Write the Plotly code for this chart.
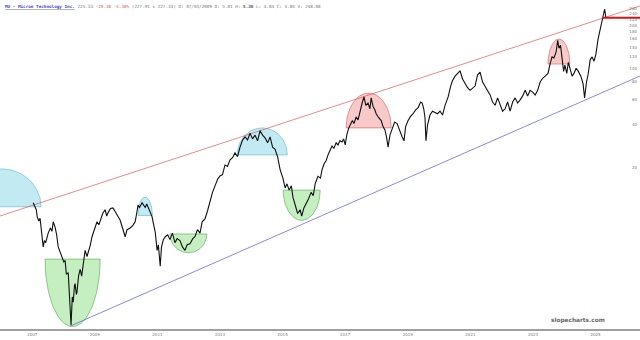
import numpy as np
import plotly.graph_objects as go

# ---- price series (decimal year, close) ----
dates = [
    2007.70, 2007.75, 2007.80, 2007.83, 2007.88, 2007.92, 2007.99, 2008.02, 2008.06, 2008.10,
    2008.18, 2008.25, 2008.30, 2008.34, 2008.40, 2008.45, 2008.50, 2008.55, 2008.62, 2008.68,
    2008.72, 2008.76, 2008.82, 2008.86, 2008.91, 2008.95, 2008.98, 2009.02, 2009.04, 2009.08,
    2009.10, 2009.15, 2009.20, 2009.25, 2009.30, 2009.36, 2009.42, 2009.46, 2009.52, 2009.58,
    2009.65, 2009.74, 2009.80, 2009.84, 2009.92, 2010.00, 2010.05, 2010.09, 2010.17, 2010.25,
    2010.32, 2010.38, 2010.43, 2010.48, 2010.55, 2010.64, 2010.70, 2010.80, 2010.88, 2010.96,
    2011.02, 2011.05, 2011.10, 2011.18, 2011.24, 2011.28, 2011.33, 2011.37, 2011.45, 2011.50,
    2011.55, 2011.60, 2011.66, 2011.70, 2011.76, 2011.80, 2011.86, 2011.92, 2012.00, 2012.07,
    2012.15, 2012.23, 2012.30, 2012.39, 2012.47, 2012.55, 2012.62, 2012.71, 2012.80, 2012.87,
    2012.95, 2013.03, 2013.10, 2013.19, 2013.27, 2013.35, 2013.43, 2013.51, 2013.60, 2013.67,
    2013.75, 2013.83, 2013.91, 2013.99, 2014.07, 2014.15, 2014.23, 2014.31, 2014.39, 2014.47,
    2014.55, 2014.63, 2014.71, 2014.79, 2014.87, 2014.95, 2015.03, 2015.11, 2015.19, 2015.27,
    2015.35, 2015.43, 2015.51, 2015.59, 2015.68, 2015.75, 2015.81, 2015.88, 2015.95, 2016.00,
    2016.08, 2016.15, 2016.23, 2016.28, 2016.35, 2016.42, 2016.50, 2016.58, 2016.65, 2016.71,
    2016.80, 2016.88, 2016.93, 2017.00, 2017.06, 2017.13, 2017.19, 2017.25, 2017.31, 2017.38,
    2017.44, 2017.50, 2017.57, 2017.62, 2017.67, 2017.72, 2017.78, 2017.83, 2017.90, 2017.95,
    2018.02, 2018.08, 2018.14, 2018.22, 2018.27, 2018.33, 2018.40, 2018.46, 2018.50, 2018.56,
    2018.62, 2018.66, 2018.74, 2018.82, 2018.88, 2018.94, 2018.99, 2019.04, 2019.10, 2019.17,
    2019.25, 2019.33, 2019.40, 2019.49, 2019.55, 2019.60, 2019.68, 2019.76, 2019.84, 2019.92,
    2020.00, 2020.08, 2020.13, 2020.18, 2020.22, 2020.25, 2020.30, 2020.38, 2020.46, 2020.54,
    2020.62, 2020.70, 2020.78, 2020.86, 2020.96, 2021.04, 2021.10, 2021.18, 2021.26, 2021.34,
    2021.42, 2021.50, 2021.58, 2021.66, 2021.74, 2021.82, 2021.90, 2021.98, 2022.06, 2022.14,
    2022.22, 2022.30, 2022.38, 2022.46, 2022.54, 2022.62, 2022.70, 2022.78, 2022.86, 2022.94,
    2023.02, 2023.10, 2023.18, 2023.26, 2023.34, 2023.42, 2023.50, 2023.58, 2023.66, 2023.74,
    2023.82, 2023.90, 2023.98, 2024.06, 2024.15, 2024.22, 2024.28, 2024.34, 2024.41, 2024.46,
    2024.50, 2024.55, 2024.60, 2024.65, 2024.69, 2024.75, 2024.80, 2024.85, 2024.92, 2024.98,
    2025.05, 2025.12, 2025.20, 2025.27, 2025.32, 2025.38, 2025.43, 2025.50, 2025.56, 2025.62,
    2025.68, 2025.75, 2025.82, 2025.88, 2025.93, 2025.96, 2026.00,
]
prices = [
    11.4, 10.8, 10.2, 9.1, 8.5, 8.9, 6.6, 5.6, 6.2, 6.0,
    7.0, 7.6, 7.2, 8.4, 7.7, 6.8, 5.6, 5.2, 4.8, 4.4,
    4.5, 3.6, 3.7, 2.4, 1.59, 2.5, 2.3, 3.0, 3.1, 2.6,
    2.7, 3.5, 3.9, 3.5, 4.3, 5.3, 4.8, 5.1, 5.7, 6.6,
    7.3, 8.4, 8.0, 8.6, 9.6, 10.2, 9.2, 9.7, 10.4, 10.5,
    9.8, 9.4, 9.0, 8.6, 7.6, 6.6, 7.4, 7.6, 7.9, 8.4,
    10.0, 11.0, 10.6, 11.4, 10.9, 10.6, 11.2, 10.7, 9.5, 9.1,
    8.0, 7.1, 5.3, 5.8, 4.1, 5.6, 6.3, 6.6, 6.8, 6.3,
    7.0, 6.0, 6.4, 6.2, 5.6, 5.3, 5.8, 5.9, 6.4, 6.6,
    7.4, 7.0, 8.4, 8.8, 10.0, 11.9, 13.5, 15.0, 16.8, 17.6,
    18.0, 21.0, 20.5, 22.8, 23.6, 25.5, 24.0, 28.0, 31.4, 33.0,
    31.5, 35.0, 32.0, 34.0, 31.0, 36.5, 34.0, 32.5, 30.0, 33.0,
    28.0, 27.0, 24.0, 19.5, 17.0, 14.5, 15.5, 14.0, 15.0, 12.5,
    11.0, 9.6, 10.2, 9.2, 10.5, 11.2, 12.2, 13.5, 12.8, 15.5,
    17.5, 17.0, 19.5, 21.5, 22.5, 25.0, 26.5, 28.5, 27.5, 30.0,
    29.0, 31.0, 30.4, 32.0, 29.0, 34.0, 38.0, 40.0, 43.0, 41.0,
    45.5, 43.5, 50.0, 58.0, 63.0, 55.0, 57.0, 52.0, 62.0, 54.0,
    51.0, 48.0, 45.0, 43.0, 39.0, 37.0, 33.0, 28.0, 34.0, 38.0,
    42.0, 41.0, 37.0, 33.0, 31.0, 39.0, 43.0, 46.0, 48.0, 51.0,
    53.0, 58.0, 57.0, 52.0, 45.0, 31.0, 40.0, 47.0, 50.0, 49.0,
    48.0, 50.0, 47.0, 55.0, 63.0, 75.0, 82.0, 88.0, 92.0, 96.0,
    84.0, 78.0, 73.0, 70.0, 72.0, 75.0, 90.0, 94.0, 80.0, 75.0,
    70.0, 65.0, 58.0, 55.0, 62.0, 56.0, 50.0, 52.0, 58.0, 50.0,
    58.0, 62.0, 57.0, 60.0, 64.0, 70.0, 64.0, 70.0, 68.0, 65.0,
    70.0, 80.0, 85.0, 88.0, 92.0, 108.0, 120.0, 118.0, 130.0, 157.0,
    138.0, 145.0, 110.0, 95.0, 105.0, 92.0, 110.0, 100.0, 88.0, 92.0,
    100.0, 95.0, 88.0, 78.0, 62.0, 80.0, 90.0, 115.0, 120.0, 112.0,
    125.0, 160.0, 190.0, 215.0, 250.0, 260.0, 225.33,
]

last_price = 225.33

# ---- trend lines (decimal year, price) ----
resist_x = [2006.64, 2027.09]
resist_y = [9.22, 273.0]
support_x = [2008.88, 2027.09]
support_y = [1.56, 88.2]

# ---- highlighted tops / bottoms ----
zone_center = [2006.70, 2008.96, 2011.28, 2012.66, 2015.02, 2016.28, 2018.42, 2024.50]
zone_halfwidth = [1.25, 0.88, 0.23, 0.59, 0.80, 0.59, 0.72, 0.35]
zone_base = [10.7, 4.6, 9.3, 6.9, 24.7, 14.0, 38.2, 107.0]
zone_tip = [19.7, 1.55, 12.5, 5.1, 38.2, 8.6, 67.0, 160.0]
zone_kind = ["top", "bottom", "top", "bottom", "top", "bottom", "peak", "peak"]

zone_fill = {"top": "rgba(120,208,228,0.45)", "bottom": "rgba(110,215,100,0.40)",
             "peak": "rgba(235,120,120,0.40)"}
zone_line = {"top": "rgba(95,185,205,0.8)", "bottom": "rgba(85,175,80,0.8)",
             "peak": "rgba(215,95,95,0.8)"}

# ---- axes ----
y_ticks = [20, 40, 60, 80, 100, 120, 140, 160, 180, 200, 220, 240, 260]
x_tick_pos = [2007.67, 2009.67, 2011.67, 2013.67, 2015.67, 2017.67, 2019.67, 2021.67, 2023.67, 2025.67]
x_tick_text = ["2007", "2009", "2011", "2013", "2015", "2017", "2019", "2021", "2023", "2025"]

x_range = [2006.64, 2027.09]
y_range = [np.log10(1.49), np.log10(300.6)]

fig = go.Figure()

t = np.linspace(0, np.pi, 60)
for c, hw, b, tip, k in zip(zone_center, zone_halfwidth, zone_base, zone_tip, zone_kind):
    xs = c + hw * np.cos(t)
    ys = np.exp(np.log(b) + np.sin(t) * (np.log(tip) - np.log(b)))
    xs = np.append(xs, xs[0])
    ys = np.append(ys, ys[0])
    fig.add_trace(go.Scatter(x=xs, y=ys, mode="lines", fill="toself",
                             fillcolor=zone_fill[k],
                             line=dict(color=zone_line[k], width=0.8),
                             hoverinfo="skip", showlegend=False))

fig.add_trace(go.Scatter(x=resist_x, y=resist_y, mode="lines",
                         line=dict(color="rgba(230,90,90,0.9)", width=0.8),
                         showlegend=False))
fig.add_trace(go.Scatter(x=support_x, y=support_y, mode="lines",
                         line=dict(color="rgba(90,90,225,0.9)", width=0.8),
                         showlegend=False))

fig.add_trace(go.Scatter(x=dates, y=prices, mode="lines",
                         line=dict(color="#111111", width=1.1),
                         showlegend=False))

fig.add_trace(go.Scatter(x=[2025.88, x_range[1]], y=[last_price, last_price], mode="lines",
                         line=dict(color="#e01010", width=2),
                         showlegend=False))

header = ('<u><b><span style="color:#3a3ad0">MU - Micron Technology Inc.</span></b></u> '
          '<span style="color:#777">225.33</span> '
          '<span style="color:#e06060">-10.38 -4.38%</span> '
          '<span style="color:#777">(227.91 x 227.33) D: 07/03/2009 O: 5.01 H:</span> '
          '<b>5.38</b><span style="color:#777"> L: 4.84 C: 4.84 V: 248.08</span>')

fig.add_annotation(x=0, y=1, xref="paper", yref="paper", xanchor="left", yanchor="top",
                   xshift=3, yshift=-2, text=header, showarrow=False,
                   font=dict(family="DejaVu Sans Mono", size=4.3, color="#555"))

fig.add_annotation(x=1, y=0, xref="paper", yref="paper", xanchor="right", yanchor="bottom",
                   xshift=-33, yshift=3, text="<b>slopecharts.com</b>", showarrow=False,
                   font=dict(family="DejaVu Sans", size=5.8, color="#666"))

fig.update_layout(
    width=640, height=340,
    margin=dict(l=0, r=0, t=0, b=11),
    paper_bgcolor="white", plot_bgcolor="white",
    showlegend=False,
    xaxis=dict(range=x_range, tickvals=x_tick_pos, ticktext=x_tick_text,
               showgrid=False, zeroline=False, showline=True, linecolor="#a0a0a0",
               linewidth=1.5, ticks="", tickfont=dict(family="DejaVu Sans", size=4, color="#777")),
    yaxis=dict(type="log", range=y_range, side="right", ticklabelposition="inside",
               tickvals=y_ticks, ticktext=[str(v) for v in y_ticks],
               showgrid=False, zeroline=False, showline=False, ticks="",
               tickfont=dict(family="DejaVu Sans", size=4, color="#777")),
)

fig.write_html("out.html")
